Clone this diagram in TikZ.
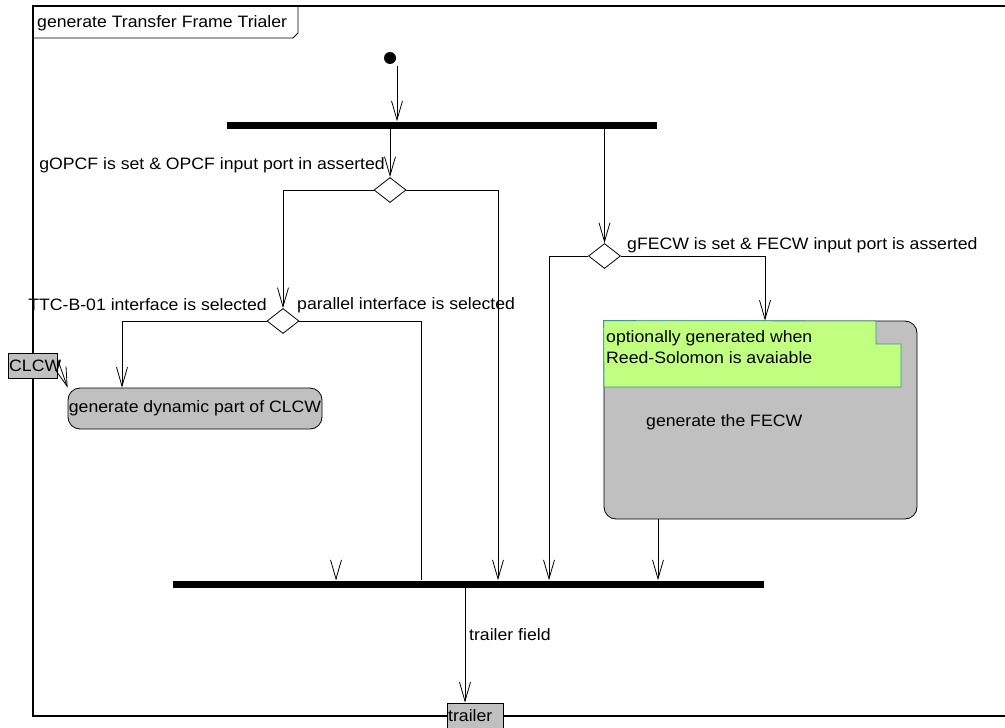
\documentclass[tikz,border=0pt]{standalone}
\usepackage{fontspec}
\setmainfont{Liberation Sans}[FakeStretch=1.07]
\usetikzlibrary{arrows.meta,shapes.geometric}
\definecolor{actgray}{RGB}{192,192,192}
\definecolor{notegreen}{RGB}{192,255,128}
\definecolor{noteedge}{RGB}{60,150,150}
\tikzset{
  conn/.style={line width=0.8pt, draw=black},
  arr/.style={conn, -{Straight Barb[length=19pt,width=11pt,line width=0.8pt]}},
  bar/.style={rectangle, fill=black, inner sep=0pt, minimum height=7pt},
  choice/.style={diamond, draw, line width=0.8pt, fill=white, inner sep=0pt, minimum width=32pt, minimum height=25pt},
  action/.style={rectangle, rounded corners=12pt, draw, line width=0.8pt, fill=actgray, inner sep=0pt},
  pin/.style={rectangle, draw, line width=0.8pt, fill=actgray, inner sep=0pt},
  lbl/.style={inner sep=0pt, font=\fontsize{16.5}{19.5}\selectfont},
}
\begin{document}
\begin{tikzpicture}[x=1pt, y=-1pt]
\useasboundingbox (0,0) rectangle (1005,728);
\fill[white] (0,0) rectangle (1005,728);

% activity frame and its name tab
\draw[line width=1.1pt] (1005,6) -- (33,6) -- (33,716) -- (1005,716);
\draw[line width=0.9pt] (33,38) -- (293,38) -- (298,33) -- (298,6);
\node[lbl, anchor=west] (title) at (37,23) {generate Transfer Frame Trialer};

% initial node and forks
\node[circle, fill=black, inner sep=0pt, minimum size=12pt] (init) at (390,58) {};
\node[bar, minimum width=430pt] (bar1) at (442,125) {};
\node[bar, minimum width=591pt] (bar2) at (468.5,584) {};

% decisions
\node[choice] (d1) at (390,190) {};
\node[choice] (d2) at (604.5,256) {};
\node[choice] (d3) at (283,321) {};

% actions
\node[action, minimum width=254pt, minimum height=41pt] (act1) at (195,408.5) {};
\node[lbl] at (act1) {generate dynamic part of CLCW};
\node[action, minimum width=313pt, minimum height=198pt] (act2) at (760.5,420) {};
\filldraw[fill=notegreen, draw=noteedge, line width=0.8pt]
  (act2.north west) -- (876,321) -- (876,344) -- (901,344) -- (901,387) -- (604,387) -- cycle;
\node[lbl, anchor=west] (n1) at (606,338) {optionally generated when};
\node[lbl, anchor=west] (n2) at (606,358) {Reed-Solomon is avaiable};
\node[lbl, anchor=west] (a2txt) at (646,422) {generate the FECW};

% pins
\node[pin, minimum width=49pt, minimum height=25pt] (clcw) at (32.5,365.5) {};
\node[lbl, anchor=west] at (9,366) {CLCW};
\node[pin, minimum width=56pt, minimum height=26pt] (trailer) at (475,716) {};
\node[lbl, anchor=west] at (448,716) {trailer};

% bend points
\coordinate (s0) at (397,66);
\coordinate (c1) at (498,190);
\coordinate (c2) at (549,256);
\coordinate (c3) at (765,256);
\coordinate (c4) at (122,321);
\coordinate (c5) at (421,321);
\coordinate (c6) at (336,578);
\coordinate (c7) at (658,0);
\coordinate (c8) at (465,0);

% flows
\draw[arr] (s0) -- (s0 |- bar1.north);
\draw[arr] (bar1.south -| d1) -- (d1.north);
\draw[arr] (bar1.south -| d2) -- (d2.north);
\draw[arr] (d1.west) -| (d3.north);
\draw[arr] (d1.east) -- (c1) -- (c1 |- bar2.north);
\draw[arr] (d2.west) -- (c2) -- (c2 |- bar2.north);
\draw[arr] (d2.east) -- (c3) -- (c3 |- act2.north);
\draw[arr] (d3.west) -- (c4) -- (c4 |- act1.north);
\draw[conn] (d3.east) -- (c5) -- (c5 |- bar2.north);
\draw[arr] (c6) -- (c6 |- bar2.north);
\draw[arr] (c7 |- act2.south) -- (c7 |- bar2.north);
\draw[arr] (c8 |- bar2.south) -- (c8 |- trailer.north);
\draw[arr] (clcw.north east) ++(0,6) -- (act1.north west);

% guard labels
\node[lbl, anchor=east] (g1) at (385,165) {gOPCF is set \& OPCF input port in asserted};
\node[lbl, anchor=west] (g2) at (627,245) {gFECW is set \& FECW input port is asserted};
\node[lbl, anchor=east] (g3) at (267,305) {TTC-B-01 interface is selected};
\node[lbl, anchor=west] (g4) at (297,305) {parallel interface is selected};
\node[lbl, anchor=west] (g5) at (469,635) {trailer field};
\end{tikzpicture}
\end{document}
